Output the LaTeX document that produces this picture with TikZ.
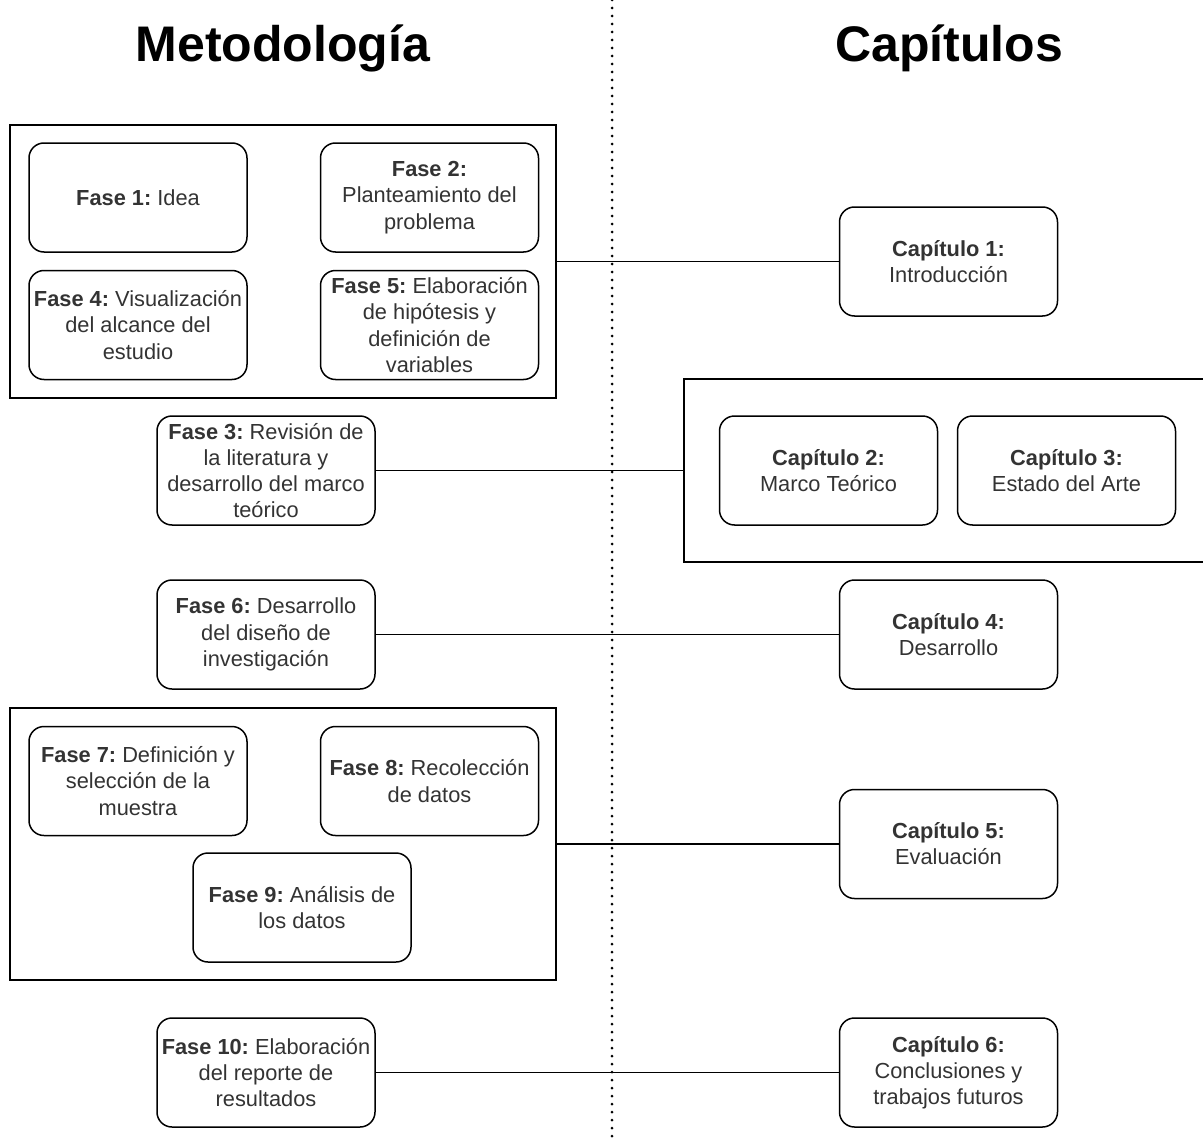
\documentclass[tikz,border=0pt]{standalone}
\usepackage{fontspec}
\setmainfont{Liberation Sans}
\definecolor{txt}{HTML}{333333}
\frenchspacing
\begin{document}
\begin{tikzpicture}[x=1pt,y=-1pt,
  stagebox/.style={draw, line width=1.5pt, rounded corners=15pt,
    minimum width=218pt, minimum height=109pt,
    align=center, inner sep=0pt, text=txt,
    font=\fontsize{21.8}{26.2}\selectfont},
  groupbox/.style={draw, line width=1.5pt, inner sep=0pt},
  link/.style={line width=1.5pt},
  heading/.style={font=\fontsize{50}{60}\selectfont\bfseries, anchor=base}]

\useasboundingbox (0,0) rectangle (1203,1140);
\clip (0,0) rectangle (1203,1140);

% column headings
\node[heading] (hm) at (283,62) {Metodología};
\node[heading] (hc) at (949,62) {Capítulos};

% dotted separator
\coordinate (dtop) at (612,0);
\coordinate (dbot) at (612,1140);
\draw[line width=3pt, line cap=round, dash pattern=on 0pt off 8pt] (dtop) -- (dbot);

% groups
\node[groupbox, minimum width=546pt, minimum height=273pt] (g1) at (283,261.5) {};
\node[groupbox, minimum width=531pt, minimum height=183pt] (g2) at (949.5,470.5) {};
\node[groupbox, minimum width=546pt, minimum height=272pt] (g3) at (283,844) {};

% phases
\node[stagebox] (f1) at (138,197.5) {\textbf{Fase 1:} Idea};
\node[stagebox] (f2) at (429.5,197.5) {\textbf{Fase 2:}\\Planteamiento del\\problema};
\node[stagebox] (f4) at (138,325) {\textbf{Fase 4:} Visualización\\del alcance del\\estudio};
\node[stagebox] (f5) at (429.5,325) {\textbf{Fase 5:} Elaboración\\de hipótesis y\\definición de\\variables};
\node[stagebox] (f3) at (266,470.5) {\textbf{Fase 3:} Revisión de\\la literatura y\\desarrollo del marco\\teórico};
\node[stagebox] (f6) at (266,634.5) {\textbf{Fase 6:} Desarrollo\\del diseño de\\investigación};
\node[stagebox] (f7) at (138,781) {\textbf{Fase 7:} Definición y\\selección de la\\muestra};
\node[stagebox] (f8) at (429.5,781) {\textbf{Fase 8:} Recolección\\de datos};
\node[stagebox] (f9) at (302,907.5) {\textbf{Fase 9:} Análisis de\\los datos};
\node[stagebox] (f10) at (266,1072.5) {\textbf{Fase 10:} Elaboración\\del reporte de\\resultados};

% chapters
\node[stagebox] (c1) at (948.5,261.5) {\textbf{Capítulo 1:}\\Introducción};
\node[stagebox] (c2) at (828.5,470.5) {\textbf{Capítulo 2:}\\Marco Teórico};
\node[stagebox] (c3) at (1066.5,470.5) {\textbf{Capítulo 3:}\\Estado del Arte};
\node[stagebox] (c4) at (948.5,634.5) {\textbf{Capítulo 4:}\\Desarrollo};
\node[stagebox] (c5) at (948.5,844) {\textbf{Capítulo 5:}\\Evaluación};
\node[stagebox] (c6) at (948.5,1072.5) {\textbf{Capítulo 6:}\\Conclusiones y\\trabajos futuros};

% connectors
\draw[link] (g1.east) -- (c1.west);
\draw[link] (f3.east) -- (g2.west);
\draw[link] (f6.east) -- (c4.west);
\draw[link] (g3.east) -- (c5.west);
\draw[link] (f10.east) -- (c6.west);
\end{tikzpicture}
\end{document}
